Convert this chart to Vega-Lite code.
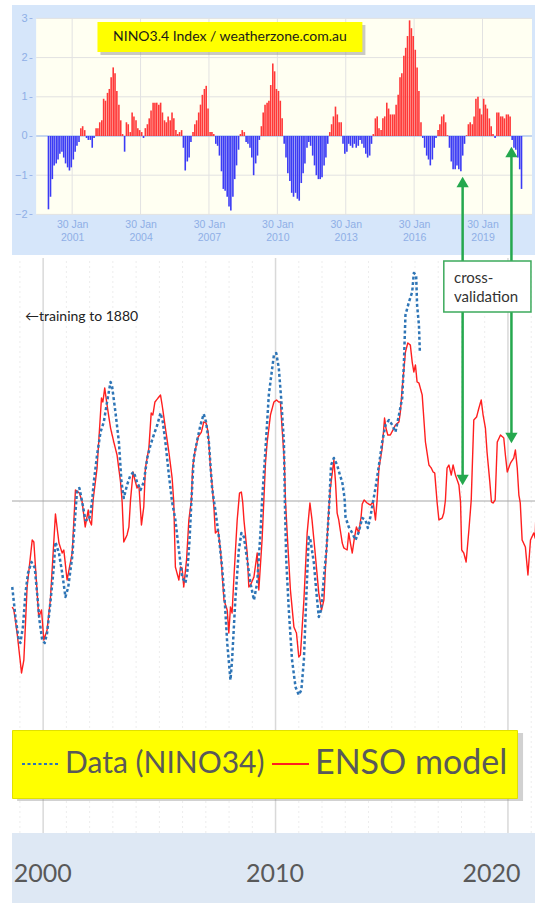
{
"$schema": "https://vega.github.io/schema/vega-lite/v6.json",
"background": "white",
"padding": {"left": 10, "top": 5, "right": 0, "bottom": 0},
"bounds": "flush",
"spacing": 3,
"config": {"view": {"stroke": null}},
"vconcat": [
{
"width": 525, "height": 250,
"view": {"fill": "#D6E6FA", "stroke": null},
"layer": [
{"data": {"values": [{}]},
 "mark": {"type": "rect", "color": "#FFFFF2"},
 "encoding": {
  "x": {"datum": 1999.5, "type": "quantitative", "scale": {"domain": [1998.66, 2021.25], "nice": false, "zero": false},
        "axis": {"orient": "bottom", "offset": -40, "values": [2001.08, 2004.08, 2007.08, 2010.08, 2013.08, 2016.08, 2019.08], "labelExpr": "['30 Jan', '' + floor(datum.value)]", "domain": false, "ticks": false, "grid": false, "labelPadding": 4, "labelFont": "Liberation Sans", "labelFontSize": 10.5, "labelLineHeight": 13, "labelColor": "#8FAFE6", "labelFlush": false, "labelOverlap": false, "title": null}},
  "x2": {"datum": 2021.25},
  "y": {"datum": -2, "type": "quantitative", "scale": {"domain": [-3.036, 3.342], "nice": false, "zero": false},
        "axis": {"orient": "left", "offset": -20, "values": [-2, -1, 0, 1, 2, 3], "format": "d", "domain": false, "ticks": true, "tickSize": 3, "tickColor": "#9BB7EA", "grid": false, "labelPadding": 2, "labelFont": "Liberation Sans", "labelFontSize": 11, "labelColor": "#8FAFE6", "title": null}},
  "y2": {"datum": 3}
 }},
{"data": {"values": [{"g": -2}, {"g": -1}, {"g": 1}, {"g": 2}, {"g": 3}]},
 "mark": {"type": "rule", "color": "#E2E2E2", "strokeWidth": 1},
 "encoding": {"y": {"field": "g", "type": "quantitative"}, "x": {"datum": 1999.5, "type": "quantitative"}, "x2": {"datum": 2021.25}}},
{"data": {"values": [{"g": 2001.08}, {"g": 2004.08}, {"g": 2007.08}, {"g": 2010.08}, {"g": 2013.08}, {"g": 2016.08}, {"g": 2019.08}]},
 "mark": {"type": "rule", "color": "#E2E2E2", "strokeWidth": 1},
 "encoding": {"x": {"field": "g", "type": "quantitative"}, "y": {"datum": -2, "type": "quantitative"}, "y2": {"datum": 3}}},
{"data": {"values": [{}]},
 "mark": {"type": "rule", "color": "#8AAEEB", "strokeWidth": 1.2},
 "encoding": {"y": {"datum": 0, "type": "quantitative"}, "x": {"datum": 1999.5, "type": "quantitative"}, "x2": {"datum": 2021.25}}},
{"data": {"values": [
{"t":2000.04,"v":-1.87},{"t":2000.13,"v":-1.55},{"t":2000.21,"v":-1.1},{"t":2000.29,"v":-0.75},{"t":2000.38,"v":-0.7},{"t":2000.46,"v":-0.6},{"t":2000.54,"v":-0.45},{"t":2000.63,"v":-0.4},{"t":2000.71,"v":-0.55},{"t":2000.79,"v":-0.7},{"t":2000.88,"v":-0.8},{"t":2000.96,"v":-0.88},
{"t":2001.04,"v":-0.8},{"t":2001.13,"v":-0.6},{"t":2001.21,"v":-0.4},{"t":2001.29,"v":-0.25},{"t":2001.38,"v":-0.15},{"t":2001.46,"v":0.2},{"t":2001.54,"v":0.25},{"t":2001.63,"v":0.15},{"t":2001.71,"v":-0.05},{"t":2001.79,"v":-0.1},{"t":2001.88,"v":-0.1},{"t":2001.96,"v":-0.3},
{"t":2002.04,"v":-0.05},{"t":2002.13,"v":0.2},{"t":2002.21,"v":0.2},{"t":2002.29,"v":0.35},{"t":2002.38,"v":0.4},{"t":2002.46,"v":0.95},{"t":2002.54,"v":0.9},{"t":2002.63,"v":1.1},{"t":2002.71,"v":1.2},{"t":2002.79,"v":1.5},{"t":2002.88,"v":1.75},{"t":2002.96,"v":1.6},
{"t":2003.04,"v":1.15},{"t":2003.13,"v":0.8},{"t":2003.21,"v":0.4},{"t":2003.29,"v":0.05},{"t":2003.38,"v":-0.4},{"t":2003.46,"v":0.35},{"t":2003.54,"v":0.3},{"t":2003.63,"v":0.1},{"t":2003.71,"v":0.6},{"t":2003.79,"v":0.5},{"t":2003.88,"v":0.4},{"t":2003.96,"v":0.2},
{"t":2004.04,"v":0.15},{"t":2004.13,"v":0.1},{"t":2004.21,"v":-0.05},{"t":2004.29,"v":0.2},{"t":2004.38,"v":0.3},{"t":2004.46,"v":0.45},{"t":2004.54,"v":0.65},{"t":2004.63,"v":0.85},{"t":2004.71,"v":0.85},{"t":2004.79,"v":0.85},{"t":2004.88,"v":0.8},{"t":2004.96,"v":0.85},
{"t":2005.04,"v":0.6},{"t":2005.13,"v":0.4},{"t":2005.21,"v":0.35},{"t":2005.29,"v":0.5},{"t":2005.38,"v":0.4},{"t":2005.46,"v":0.6},{"t":2005.54,"v":0.45},{"t":2005.63,"v":0.15},{"t":2005.71,"v":0.05},{"t":2005.79,"v":0.1},{"t":2005.88,"v":0.15},{"t":2005.96,"v":-0.3},
{"t":2006.04,"v":-0.88},{"t":2006.13,"v":-0.65},{"t":2006.21,"v":-0.55},{"t":2006.29,"v":-0.15},{"t":2006.38,"v":0.1},{"t":2006.46,"v":0.3},{"t":2006.54,"v":0.4},{"t":2006.63,"v":0.6},{"t":2006.71,"v":0.8},{"t":2006.79,"v":1.05},{"t":2006.88,"v":1.2},{"t":2006.96,"v":1.28},
{"t":2007.04,"v":0.7},{"t":2007.13,"v":0.1},{"t":2007.21,"v":0.1},{"t":2007.29,"v":0.05},{"t":2007.38,"v":-0.2},{"t":2007.46,"v":-0.25},{"t":2007.54,"v":-0.5},{"t":2007.63,"v":-0.9},{"t":2007.71,"v":-1.35},{"t":2007.79,"v":-1.4},{"t":2007.88,"v":-1.55},{"t":2007.96,"v":-1.8},
{"t":2008.04,"v":-1.9},{"t":2008.13,"v":-1.55},{"t":2008.21,"v":-1.1},{"t":2008.29,"v":-0.75},{"t":2008.38,"v":-0.35},{"t":2008.46,"v":0.05},{"t":2008.54,"v":0.15},{"t":2008.63,"v":0.1},{"t":2008.71,"v":-0.15},{"t":2008.79,"v":-0.2},{"t":2008.88,"v":-0.3},{"t":2008.96,"v":-0.55},
{"t":2009.04,"v":-1.0},{"t":2009.13,"v":-0.7},{"t":2009.21,"v":-0.5},{"t":2009.29,"v":-0.1},{"t":2009.38,"v":0.25},{"t":2009.46,"v":0.6},{"t":2009.54,"v":0.8},{"t":2009.63,"v":0.85},{"t":2009.71,"v":0.9},{"t":2009.79,"v":1.3},{"t":2009.88,"v":1.85},{"t":2009.96,"v":1.65},
{"t":2010.04,"v":1.2},{"t":2010.13,"v":1.15},{"t":2010.21,"v":0.9},{"t":2010.29,"v":0.45},{"t":2010.38,"v":-0.2},{"t":2010.46,"v":-0.55},{"t":2010.54,"v":-0.95},{"t":2010.63,"v":-1.15},{"t":2010.71,"v":-1.45},{"t":2010.79,"v":-1.55},{"t":2010.88,"v":-1.45},{"t":2010.96,"v":-1.6},
{"t":2011.04,"v":-1.65},{"t":2011.13,"v":-1.2},{"t":2011.21,"v":-0.95},{"t":2011.29,"v":-0.7},{"t":2011.38,"v":-0.3},{"t":2011.46,"v":-0.15},{"t":2011.54,"v":-0.25},{"t":2011.63,"v":-0.5},{"t":2011.71,"v":-0.75},{"t":2011.79,"v":-1.0},{"t":2011.88,"v":-1.1},{"t":2011.96,"v":-1.1},
{"t":2012.04,"v":-1.05},{"t":2012.13,"v":-0.75},{"t":2012.21,"v":-0.55},{"t":2012.29,"v":-0.2},{"t":2012.38,"v":0.1},{"t":2012.46,"v":0.3},{"t":2012.54,"v":0.5},{"t":2012.63,"v":0.75},{"t":2012.71,"v":0.55},{"t":2012.79,"v":0.35},{"t":2012.88,"v":0.35},{"t":2012.96,"v":-0.2},
{"t":2013.04,"v":-0.45},{"t":2013.13,"v":-0.4},{"t":2013.21,"v":-0.2},{"t":2013.29,"v":-0.25},{"t":2013.38,"v":-0.3},{"t":2013.46,"v":-0.2},{"t":2013.54,"v":-0.3},{"t":2013.63,"v":-0.25},{"t":2013.71,"v":-0.1},{"t":2013.79,"v":-0.2},{"t":2013.88,"v":-0.3},{"t":2013.96,"v":-0.45},
{"t":2014.04,"v":-0.55},{"t":2014.13,"v":-0.5},{"t":2014.21,"v":-0.2},{"t":2014.29,"v":0.05},{"t":2014.38,"v":0.45},{"t":2014.46,"v":0.5},{"t":2014.54,"v":0.2},{"t":2014.63,"v":0.15},{"t":2014.71,"v":0.45},{"t":2014.79,"v":0.5},{"t":2014.88,"v":0.85},{"t":2014.96,"v":0.7},
{"t":2015.04,"v":0.55},{"t":2015.13,"v":0.55},{"t":2015.21,"v":0.55},{"t":2015.29,"v":0.8},{"t":2015.38,"v":1.05},{"t":2015.46,"v":1.5},{"t":2015.54,"v":1.6},{"t":2015.63,"v":2.05},{"t":2015.71,"v":2.25},{"t":2015.79,"v":2.55},{"t":2015.88,"v":2.95},{"t":2015.96,"v":2.75},
{"t":2016.04,"v":2.55},{"t":2016.13,"v":2.2},{"t":2016.21,"v":1.75},{"t":2016.29,"v":1.15},{"t":2016.38,"v":0.35},{"t":2016.46,"v":-0.05},{"t":2016.54,"v":-0.3},{"t":2016.63,"v":-0.5},{"t":2016.71,"v":-0.6},{"t":2016.79,"v":-0.75},{"t":2016.88,"v":-0.6},{"t":2016.96,"v":-0.3},
{"t":2017.04,"v":-0.05},{"t":2017.13,"v":0.15},{"t":2017.21,"v":0.3},{"t":2017.29,"v":0.5},{"t":2017.38,"v":0.55},{"t":2017.46,"v":0.35},{"t":2017.54,"v":0.02},{"t":2017.63,"v":-0.3},{"t":2017.71,"v":-0.65},{"t":2017.79,"v":-0.85},{"t":2017.88,"v":-0.85},{"t":2017.96,"v":-0.75},
{"t":2018.04,"v":-0.85},{"t":2018.13,"v":-0.9},{"t":2018.21,"v":-0.5},{"t":2018.29,"v":-0.2},{"t":2018.38,"v":0.02},{"t":2018.46,"v":0.3},{"t":2018.54,"v":0.35},{"t":2018.63,"v":0.3},{"t":2018.71,"v":0.5},{"t":2018.79,"v":0.95},{"t":2018.88,"v":1.0},{"t":2018.96,"v":0.7},
{"t":2019.04,"v":0.55},{"t":2019.13,"v":0.95},{"t":2019.21,"v":0.8},{"t":2019.29,"v":0.7},{"t":2019.38,"v":0.45},{"t":2019.46,"v":0.25},{"t":2019.54,"v":0.05},{"t":2019.63,"v":-0.05},{"t":2019.71,"v":0.6},{"t":2019.79,"v":0.6},{"t":2019.88,"v":0.5},{"t":2019.96,"v":0.5},
{"t":2020.04,"v":0.45},{"t":2020.13,"v":0.55},{"t":2020.21,"v":0.55},{"t":2020.29,"v":0.5},{"t":2020.38,"v":-0.1},{"t":2020.46,"v":-0.3},{"t":2020.54,"v":-0.35},{"t":2020.63,"v":-0.55},{"t":2020.71,"v":-0.85},{"t":2020.79,"v":-1.35}
]},
 "mark": {"type": "bar", "size": 1.6},
 "encoding": {
  "x": {"field": "t", "type": "quantitative"},
  "y": {"field": "v", "type": "quantitative", "stack": null},
  "color": {"condition": {"test": "datum.v < 0", "value": "#3B3BF5"}, "value": "#FF3838"}
 }},
{"data": {"values": [{}]},
 "mark": {"type": "rect", "color": "#8A8A8A", "opacity": 0.45, "xOffset": 3, "x2Offset": 3, "yOffset": 3, "y2Offset": 3},
 "encoding": {"x": {"datum": 2002.19, "type": "quantitative"}, "x2": {"datum": 2013.81}, "y": {"datum": 2.91, "type": "quantitative"}, "y2": {"datum": 2.14}}},
{"data": {"values": [{}]},
 "mark": {"type": "rect", "color": "#FFFF00"},
 "encoding": {"x": {"datum": 2002.19, "type": "quantitative"}, "x2": {"datum": 2013.81}, "y": {"datum": 2.91, "type": "quantitative"}, "y2": {"datum": 2.14}}},
{"data": {"values": [{"label": "NINO3.4 Index / weatherzone.com.au"}]},
 "mark": {"type": "text", "font": "Lato", "fontSize": 14, "color": "#1A1A1A", "align": "center", "baseline": "middle"},
 "encoding": {"x": {"datum": 2008.0, "type": "quantitative"}, "y": {"datum": 2.53, "type": "quantitative"}, "text": {"field": "label"}}}
]
},
{
"width": 525, "height": 645,
"view": {"fill": "white", "stroke": null},
"layer": [
{"data": {"values": [{"g":1999},{"g":2001},{"g":2002},{"g":2003},{"g":2004},{"g":2005},{"g":2006},{"g":2007},{"g":2008},{"g":2009},{"g":2011},{"g":2012},{"g":2013},{"g":2014},{"g":2015},{"g":2016},{"g":2017},{"g":2018},{"g":2019},{"g":2021}]},
 "mark": {"type": "rule", "color": "#EDEDED", "strokeWidth": 1, "strokeDash": [2, 3]},
 "encoding": {
  "x": {"field": "g", "type": "quantitative", "scale": {"domain": [1998.66, 2021.25], "nice": false, "zero": false},
        "axis": {"orient": "bottom", "offset": -46, "values": [2000, 2010, 2020], "format": "d", "domain": false, "ticks": false, "grid": false, "labelPadding": 4, "labelFont": "Lato", "labelFontSize": 25, "labelColor": "#595959", "labelFlush": false, "labelOverlap": false, "labelOffset": {"condition": {"test": "datum.value == 2020", "value": -17}, "value": -1}, "zindex": 1, "title": null}},
  "y": {"datum": -3.32, "type": "quantitative", "scale": {"domain": [-4.02, 2.43], "nice": false, "zero": false}, "axis": null},
  "y2": {"datum": 2.43}
 }},
{"data": {"values": [{"g":2000},{"g":2010},{"g":2020}]},
 "mark": {"type": "rule", "color": "#D9D9D9", "strokeWidth": 1.5},
 "encoding": {"x": {"field": "g", "type": "quantitative"}, "y": {"datum": -3.32, "type": "quantitative", "axis": null}, "y2": {"datum": 2.43}}},
{"data": {"values": [{}]},
 "mark": {"type": "rect", "color": "#DEE8F4"},
 "encoding": {"x": {"datum": 1998.66, "type": "quantitative"}, "x2": {"datum": 2021.25}, "y": {"datum": -3.32, "type": "quantitative", "axis": null}, "y2": {"datum": -4.02}}},
{"data": {"values": [{}]},
 "mark": {"type": "rule", "color": "#A6A6A6", "strokeWidth": 1},
 "encoding": {"y": {"datum": 0, "type": "quantitative", "axis": null}}},
{"data": {"values": [{}]},
 "mark": {"type": "rect", "color": "#7A7A7A", "opacity": 0.35, "xOffset": 3, "x2Offset": 3, "yOffset": 3, "y2Offset": 3},
 "encoding": {"x": {"datum": 1998.75, "type": "quantitative"}, "x2": {"datum": 2020.52}, "y": {"datum": -2.29, "type": "quantitative", "axis": null}, "y2": {"datum": -2.97}}},
{"data": {"values": [
{"s":"ENSO model","t":1998.67,"v":-1.06},{"s":"ENSO model","t":1998.74,"v":-1.09},{"s":"ENSO model","t":1998.88,"v":-1.32},{"s":"ENSO model","t":1999.07,"v":-1.72},{"s":"ENSO model","t":1999.17,"v":-1.59},{"s":"ENSO model","t":1999.31,"v":-0.86},{"s":"ENSO model","t":1999.53,"v":-0.39},{"s":"ENSO model","t":1999.60,"v":-0.41},{"s":"ENSO model","t":1999.67,"v":-0.66},{"s":"ENSO model","t":1999.81,"v":-1.16},{"s":"ENSO model","t":1999.93,"v":-1.09},
{"s":"ENSO model","t":2000.03,"v":-1.39},{"s":"ENSO model","t":2000.17,"v":-1.29},{"s":"ENSO model","t":2000.31,"v":-0.99},{"s":"ENSO model","t":2000.53,"v":-0.13},{"s":"ENSO model","t":2000.68,"v":-0.42},{"s":"ENSO model","t":2000.82,"v":-0.52},{"s":"ENSO model","t":2000.89,"v":-0.49},
{"s":"ENSO model","t":2001.03,"v":-0.79},{"s":"ENSO model","t":2001.25,"v":-0.52},{"s":"ENSO model","t":2001.39,"v":0.11},{"s":"ENSO model","t":2001.56,"v":0.08},{"s":"ENSO model","t":2001.68,"v":-0.01},{"s":"ENSO model","t":2001.81,"v":-0.26},{"s":"ENSO model","t":2001.94,"v":-0.09},{"s":"ENSO model","t":2001.99,"v":-0.19},
{"s":"ENSO model","t":2002.08,"v":-0.24},{"s":"ENSO model","t":2002.15,"v":0.01},{"s":"ENSO model","t":2002.32,"v":0.33},{"s":"ENSO model","t":2002.51,"v":1.03},{"s":"ENSO model","t":2002.57,"v":0.99},{"s":"ENSO model","t":2002.65,"v":1.13},{"s":"ENSO model","t":2002.75,"v":0.96},{"s":"ENSO model","t":2002.90,"v":0.73},
{"s":"ENSO model","t":2003.04,"v":0.59},{"s":"ENSO model","t":2003.18,"v":0.46},{"s":"ENSO model","t":2003.33,"v":0.19},{"s":"ENSO model","t":2003.40,"v":-0.01},{"s":"ENSO model","t":2003.47,"v":-0.41},{"s":"ENSO model","t":2003.61,"v":-0.34},{"s":"ENSO model","t":2003.69,"v":-0.26},{"s":"ENSO model","t":2003.76,"v":0.01},{"s":"ENSO model","t":2003.87,"v":0.29},{"s":"ENSO model","t":2003.95,"v":0.21},
{"s":"ENSO model","t":2004.04,"v":0.13},{"s":"ENSO model","t":2004.12,"v":0.16},{"s":"ENSO model","t":2004.23,"v":-0.24},{"s":"ENSO model","t":2004.33,"v":-0.06},{"s":"ENSO model","t":2004.40,"v":0.33},{"s":"ENSO model","t":2004.55,"v":0.53},{"s":"ENSO model","t":2004.65,"v":0.88},{"s":"ENSO model","t":2004.72,"v":0.86},{"s":"ENSO model","t":2004.81,"v":0.99},{"s":"ENSO model","t":2004.98,"v":1.04},
{"s":"ENSO model","t":2005.05,"v":1.06},{"s":"ENSO model","t":2005.12,"v":0.96},{"s":"ENSO model","t":2005.26,"v":0.73},{"s":"ENSO model","t":2005.41,"v":0.49},{"s":"ENSO model","t":2005.55,"v":0.23},{"s":"ENSO model","t":2005.62,"v":-0.01},{"s":"ENSO model","t":2005.69,"v":-0.66},{"s":"ENSO model","t":2005.84,"v":-0.79},{"s":"ENSO model","t":2005.91,"v":-0.66},{"s":"ENSO model","t":2005.98,"v":-0.67},
{"s":"ENSO model","t":2006.05,"v":-0.86},{"s":"ENSO model","t":2006.17,"v":-0.59},{"s":"ENSO model","t":2006.27,"v":-0.19},{"s":"ENSO model","t":2006.38,"v":0.01},{"s":"ENSO model","t":2006.43,"v":0.33},{"s":"ENSO model","t":2006.53,"v":0.49},{"s":"ENSO model","t":2006.67,"v":0.64},{"s":"ENSO model","t":2006.81,"v":0.69},{"s":"ENSO model","t":2006.91,"v":0.79},
{"s":"ENSO model","t":2007.01,"v":0.78},{"s":"ENSO model","t":2007.10,"v":0.69},{"s":"ENSO model","t":2007.20,"v":0.33},{"s":"ENSO model","t":2007.27,"v":0.16},{"s":"ENSO model","t":2007.35,"v":-0.07},{"s":"ENSO model","t":2007.41,"v":-0.32},{"s":"ENSO model","t":2007.53,"v":-0.29},{"s":"ENSO model","t":2007.63,"v":-0.49},{"s":"ENSO model","t":2007.78,"v":-0.99},{"s":"ENSO model","t":2007.92,"v":-1.09},{"s":"ENSO model","t":2007.99,"v":-1.32},
{"s":"ENSO model","t":2008.06,"v":-1.06},{"s":"ENSO model","t":2008.13,"v":-1.12},{"s":"ENSO model","t":2008.21,"v":-0.76},{"s":"ENSO model","t":2008.35,"v":-0.19},{"s":"ENSO model","t":2008.45,"v":0.08},{"s":"ENSO model","t":2008.53,"v":0.09},{"s":"ENSO model","t":2008.59,"v":-0.02},{"s":"ENSO model","t":2008.64,"v":-0.19},{"s":"ENSO model","t":2008.78,"v":-0.52},{"s":"ENSO model","t":2008.85,"v":-0.86},{"s":"ENSO model","t":2008.92,"v":-0.84},
{"s":"ENSO model","t":2009.07,"v":-0.76},{"s":"ENSO model","t":2009.21,"v":-0.52},{"s":"ENSO model","t":2009.28,"v":-0.89},{"s":"ENSO model","t":2009.42,"v":-0.39},{"s":"ENSO model","t":2009.57,"v":0.39},{"s":"ENSO model","t":2009.64,"v":0.59},{"s":"ENSO model","t":2009.72,"v":0.74},{"s":"ENSO model","t":2009.78,"v":0.86},{"s":"ENSO model","t":2009.93,"v":0.99},
{"s":"ENSO model","t":2010.04,"v":1.01},{"s":"ENSO model","t":2010.14,"v":0.99},{"s":"ENSO model","t":2010.21,"v":0.99},{"s":"ENSO model","t":2010.28,"v":0.73},{"s":"ENSO model","t":2010.38,"v":0.39},{"s":"ENSO model","t":2010.43,"v":-0.01},{"s":"ENSO model","t":2010.50,"v":-0.32},{"s":"ENSO model","t":2010.64,"v":-0.89},{"s":"ENSO model","t":2010.79,"v":-1.26},{"s":"ENSO model","t":2010.90,"v":-1.32},
{"s":"ENSO model","t":2011.00,"v":-1.56},{"s":"ENSO model","t":2011.07,"v":-1.54},{"s":"ENSO model","t":2011.22,"v":-0.99},{"s":"ENSO model","t":2011.36,"v":-0.32},{"s":"ENSO model","t":2011.48,"v":-0.02},{"s":"ENSO model","t":2011.57,"v":-0.19},{"s":"ENSO model","t":2011.72,"v":-0.56},{"s":"ENSO model","t":2011.86,"v":-0.92},{"s":"ENSO model","t":2011.98,"v":-1.09},
{"s":"ENSO model","t":2012.08,"v":-0.99},{"s":"ENSO model","t":2012.15,"v":-0.66},{"s":"ENSO model","t":2012.29,"v":-0.09},{"s":"ENSO model","t":2012.36,"v":0.13},{"s":"ENSO model","t":2012.51,"v":0.41},{"s":"ENSO model","t":2012.58,"v":0.19},{"s":"ENSO model","t":2012.65,"v":-0.12},{"s":"ENSO model","t":2012.72,"v":-0.19},{"s":"ENSO model","t":2012.87,"v":-0.42},{"s":"ENSO model","t":2012.94,"v":-0.47},
{"s":"ENSO model","t":2013.08,"v":-0.49},{"s":"ENSO model","t":2013.15,"v":-0.32},{"s":"ENSO model","t":2013.22,"v":-0.42},{"s":"ENSO model","t":2013.30,"v":-0.52},{"s":"ENSO model","t":2013.40,"v":-0.36},{"s":"ENSO model","t":2013.48,"v":-0.26},{"s":"ENSO model","t":2013.58,"v":-0.32},{"s":"ENSO model","t":2013.68,"v":-0.16},{"s":"ENSO model","t":2013.73,"v":-0.03},{"s":"ENSO model","t":2013.81,"v":0.01},{"s":"ENSO model","t":2013.94,"v":-0.02},
{"s":"ENSO model","t":2014.08,"v":-0.04},{"s":"ENSO model","t":2014.20,"v":-0.01},{"s":"ENSO model","t":2014.30,"v":-0.19},{"s":"ENSO model","t":2014.37,"v":0.01},{"s":"ENSO model","t":2014.45,"v":0.33},{"s":"ENSO model","t":2014.59,"v":0.53},{"s":"ENSO model","t":2014.69,"v":0.83},{"s":"ENSO model","t":2014.75,"v":0.73},{"s":"ENSO model","t":2014.83,"v":0.66},{"s":"ENSO model","t":2014.94,"v":0.66},
{"s":"ENSO model","t":2015.16,"v":0.76},{"s":"ENSO model","t":2015.31,"v":0.79},{"s":"ENSO model","t":2015.37,"v":0.89},{"s":"ENSO model","t":2015.45,"v":1.13},{"s":"ENSO model","t":2015.59,"v":1.49},{"s":"ENSO model","t":2015.69,"v":1.58},{"s":"ENSO model","t":2015.80,"v":1.56},{"s":"ENSO model","t":2015.88,"v":1.39},{"s":"ENSO model","t":2015.95,"v":1.29},
{"s":"ENSO model","t":2016.02,"v":1.36},{"s":"ENSO model","t":2016.09,"v":1.19},{"s":"ENSO model","t":2016.17,"v":1.18},{"s":"ENSO model","t":2016.31,"v":1.06},{"s":"ENSO model","t":2016.45,"v":0.59},{"s":"ENSO model","t":2016.60,"v":0.36},{"s":"ENSO model","t":2016.70,"v":0.33},{"s":"ENSO model","t":2016.78,"v":0.29},{"s":"ENSO model","t":2016.85,"v":0.28},{"s":"ENSO model","t":2016.95,"v":-0.01},
{"s":"ENSO model","t":2017.03,"v":-0.19},{"s":"ENSO model","t":2017.17,"v":-0.17},{"s":"ENSO model","t":2017.24,"v":-0.12},{"s":"ENSO model","t":2017.31,"v":0.01},{"s":"ENSO model","t":2017.38,"v":0.33},{"s":"ENSO model","t":2017.46,"v":0.36},{"s":"ENSO model","t":2017.56,"v":0.26},{"s":"ENSO model","t":2017.64,"v":0.36},{"s":"ENSO model","t":2017.74,"v":0.26},{"s":"ENSO model","t":2017.89,"v":0.16},{"s":"ENSO model","t":2017.96,"v":-0.01},
{"s":"ENSO model","t":2018.01,"v":-0.49},{"s":"ENSO model","t":2018.10,"v":-0.52},{"s":"ENSO model","t":2018.20,"v":-0.61},{"s":"ENSO model","t":2018.32,"v":-0.29},{"s":"ENSO model","t":2018.42,"v":0.01},{"s":"ENSO model","t":2018.53,"v":0.81},{"s":"ENSO model","t":2018.65,"v":0.84},{"s":"ENSO model","t":2018.75,"v":0.93},{"s":"ENSO model","t":2018.85,"v":1.01},{"s":"ENSO model","t":2018.93,"v":0.86},
{"s":"ENSO model","t":2019.03,"v":0.73},{"s":"ENSO model","t":2019.10,"v":0.49},{"s":"ENSO model","t":2019.22,"v":0.19},{"s":"ENSO model","t":2019.29,"v":-0.01},{"s":"ENSO model","t":2019.36,"v":-0.02},{"s":"ENSO model","t":2019.45,"v":0.01},{"s":"ENSO model","t":2019.54,"v":0.59},{"s":"ENSO model","t":2019.68,"v":0.66},{"s":"ENSO model","t":2019.82,"v":0.63},{"s":"ENSO model","t":2019.89,"v":0.46},{"s":"ENSO model","t":2019.97,"v":0.29},
{"s":"ENSO model","t":2020.11,"v":0.38},{"s":"ENSO model","t":2020.25,"v":0.43},{"s":"ENSO model","t":2020.32,"v":0.51},{"s":"ENSO model","t":2020.40,"v":0.33},{"s":"ENSO model","t":2020.47,"v":0.06},{"s":"ENSO model","t":2020.53,"v":-0.02},{"s":"ENSO model","t":2020.61,"v":-0.39},{"s":"ENSO model","t":2020.75,"v":-0.46},{"s":"ENSO model","t":2020.86,"v":-0.74},{"s":"ENSO model","t":2020.97,"v":-0.39},
{"s":"ENSO model","t":2021.11,"v":-0.32},{"s":"ENSO model","t":2021.17,"v":-0.37},{"s":"ENSO model","t":2021.25,"v":0.21},
{"s":"Data (NINO34)","t":1998.67,"v":-0.86},{"s":"Data (NINO34)","t":1998.81,"v":-1.16},{"s":"Data (NINO34)","t":1998.95,"v":-1.39},{"s":"Data (NINO34)","t":1999.02,"v":-1.42},{"s":"Data (NINO34)","t":1999.13,"v":-1.26},{"s":"Data (NINO34)","t":1999.24,"v":-0.92},{"s":"Data (NINO34)","t":1999.35,"v":-0.72},{"s":"Data (NINO34)","t":1999.50,"v":-0.61},{"s":"Data (NINO34)","t":1999.64,"v":-0.67},{"s":"Data (NINO34)","t":1999.74,"v":-0.92},{"s":"Data (NINO34)","t":1999.84,"v":-1.19},{"s":"Data (NINO34)","t":1999.96,"v":-1.39},
{"s":"Data (NINO34)","t":2000.07,"v":-1.42},{"s":"Data (NINO34)","t":2000.17,"v":-1.32},{"s":"Data (NINO34)","t":2000.31,"v":-1.02},{"s":"Data (NINO34)","t":2000.46,"v":-0.66},{"s":"Data (NINO34)","t":2000.53,"v":-0.41},{"s":"Data (NINO34)","t":2000.68,"v":-0.52},{"s":"Data (NINO34)","t":2000.82,"v":-0.72},{"s":"Data (NINO34)","t":2000.96,"v":-0.96},
{"s":"Data (NINO34)","t":2001.08,"v":-0.86},{"s":"Data (NINO34)","t":2001.25,"v":-0.56},{"s":"Data (NINO34)","t":2001.39,"v":-0.12},{"s":"Data (NINO34)","t":2001.46,"v":0.11},{"s":"Data (NINO34)","t":2001.56,"v":0.13},{"s":"Data (NINO34)","t":2001.68,"v":-0.01},{"s":"Data (NINO34)","t":2001.82,"v":-0.19},{"s":"Data (NINO34)","t":2001.97,"v":-0.19},
{"s":"Data (NINO34)","t":2002.04,"v":-0.12},{"s":"Data (NINO34)","t":2002.11,"v":0.01},{"s":"Data (NINO34)","t":2002.18,"v":0.19},{"s":"Data (NINO34)","t":2002.32,"v":0.46},{"s":"Data (NINO34)","t":2002.47,"v":0.69},{"s":"Data (NINO34)","t":2002.61,"v":0.79},{"s":"Data (NINO34)","t":2002.75,"v":0.99},{"s":"Data (NINO34)","t":2002.90,"v":1.19},{"s":"Data (NINO34)","t":2002.97,"v":1.14},
{"s":"Data (NINO34)","t":2003.11,"v":0.89},{"s":"Data (NINO34)","t":2003.26,"v":0.59},{"s":"Data (NINO34)","t":2003.37,"v":0.19},{"s":"Data (NINO34)","t":2003.47,"v":0.03},{"s":"Data (NINO34)","t":2003.61,"v":0.16},{"s":"Data (NINO34)","t":2003.76,"v":0.26},{"s":"Data (NINO34)","t":2003.90,"v":0.29},
{"s":"Data (NINO34)","t":2004.04,"v":0.19},{"s":"Data (NINO34)","t":2004.19,"v":0.11},{"s":"Data (NINO34)","t":2004.33,"v":0.19},{"s":"Data (NINO34)","t":2004.48,"v":0.43},{"s":"Data (NINO34)","t":2004.62,"v":0.56},{"s":"Data (NINO34)","t":2004.76,"v":0.66},{"s":"Data (NINO34)","t":2004.91,"v":0.76},
{"s":"Data (NINO34)","t":2005.05,"v":0.88},{"s":"Data (NINO34)","t":2005.15,"v":0.79},{"s":"Data (NINO34)","t":2005.26,"v":0.59},{"s":"Data (NINO34)","t":2005.41,"v":0.26},{"s":"Data (NINO34)","t":2005.55,"v":-0.01},{"s":"Data (NINO34)","t":2005.69,"v":-0.19},{"s":"Data (NINO34)","t":2005.84,"v":-0.49},{"s":"Data (NINO34)","t":2005.98,"v":-0.76},
{"s":"Data (NINO34)","t":2006.12,"v":-0.82},{"s":"Data (NINO34)","t":2006.20,"v":-0.72},{"s":"Data (NINO34)","t":2006.30,"v":-0.39},{"s":"Data (NINO34)","t":2006.38,"v":0.0},{"s":"Data (NINO34)","t":2006.48,"v":0.43},{"s":"Data (NINO34)","t":2006.63,"v":0.61},{"s":"Data (NINO34)","t":2006.77,"v":0.76},{"s":"Data (NINO34)","t":2006.91,"v":0.87},
{"s":"Data (NINO34)","t":2007.01,"v":0.79},{"s":"Data (NINO34)","t":2007.13,"v":0.59},{"s":"Data (NINO34)","t":2007.27,"v":0.13},{"s":"Data (NINO34)","t":2007.35,"v":0.0},{"s":"Data (NINO34)","t":2007.41,"v":-0.09},{"s":"Data (NINO34)","t":2007.56,"v":-0.36},{"s":"Data (NINO34)","t":2007.70,"v":-0.66},{"s":"Data (NINO34)","t":2007.82,"v":-1.02},{"s":"Data (NINO34)","t":2007.92,"v":-1.42},
{"s":"Data (NINO34)","t":2008.06,"v":-1.79},{"s":"Data (NINO34)","t":2008.13,"v":-1.59},{"s":"Data (NINO34)","t":2008.27,"v":-0.99},{"s":"Data (NINO34)","t":2008.42,"v":-0.49},{"s":"Data (NINO34)","t":2008.53,"v":-0.32},{"s":"Data (NINO34)","t":2008.64,"v":-0.36},{"s":"Data (NINO34)","t":2008.78,"v":-0.59},{"s":"Data (NINO34)","t":2008.92,"v":-0.82},
{"s":"Data (NINO34)","t":2009.07,"v":-0.99},{"s":"Data (NINO34)","t":2009.21,"v":-0.82},{"s":"Data (NINO34)","t":2009.35,"v":-0.32},{"s":"Data (NINO34)","t":2009.42,"v":0.0},{"s":"Data (NINO34)","t":2009.57,"v":0.53},{"s":"Data (NINO34)","t":2009.71,"v":1.06},{"s":"Data (NINO34)","t":2009.78,"v":1.19},{"s":"Data (NINO34)","t":2009.93,"v":1.46},
{"s":"Data (NINO34)","t":2010.03,"v":1.48},{"s":"Data (NINO34)","t":2010.14,"v":1.33},{"s":"Data (NINO34)","t":2010.24,"v":1.03},{"s":"Data (NINO34)","t":2010.36,"v":0.59},{"s":"Data (NINO34)","t":2010.40,"v":0.0},{"s":"Data (NINO34)","t":2010.46,"v":-0.59},{"s":"Data (NINO34)","t":2010.57,"v":-1.09},{"s":"Data (NINO34)","t":2010.71,"v":-1.59},{"s":"Data (NINO34)","t":2010.86,"v":-1.86},
{"s":"Data (NINO34)","t":2011.00,"v":-1.94},{"s":"Data (NINO34)","t":2011.11,"v":-1.89},{"s":"Data (NINO34)","t":2011.22,"v":-1.59},{"s":"Data (NINO34)","t":2011.33,"v":-0.92},{"s":"Data (NINO34)","t":2011.43,"v":-0.36},{"s":"Data (NINO34)","t":2011.50,"v":-0.39},{"s":"Data (NINO34)","t":2011.65,"v":-0.62},{"s":"Data (NINO34)","t":2011.76,"v":-0.92},{"s":"Data (NINO34)","t":2011.86,"v":-1.16},{"s":"Data (NINO34)","t":2011.96,"v":-1.09},
{"s":"Data (NINO34)","t":2012.08,"v":-0.76},{"s":"Data (NINO34)","t":2012.19,"v":-0.49},{"s":"Data (NINO34)","t":2012.29,"v":-0.12},{"s":"Data (NINO34)","t":2012.39,"v":0.36},{"s":"Data (NINO34)","t":2012.51,"v":0.43},{"s":"Data (NINO34)","t":2012.65,"v":0.36},{"s":"Data (NINO34)","t":2012.77,"v":0.26},{"s":"Data (NINO34)","t":2012.87,"v":0.19},{"s":"Data (NINO34)","t":2012.97,"v":0.03},
{"s":"Data (NINO34)","t":2013.01,"v":-0.16},{"s":"Data (NINO34)","t":2013.15,"v":-0.26},{"s":"Data (NINO34)","t":2013.30,"v":-0.32},{"s":"Data (NINO34)","t":2013.44,"v":-0.39},{"s":"Data (NINO34)","t":2013.58,"v":-0.31},{"s":"Data (NINO34)","t":2013.73,"v":-0.17},{"s":"Data (NINO34)","t":2013.87,"v":-0.19},{"s":"Data (NINO34)","t":2013.97,"v":-0.27},
{"s":"Data (NINO34)","t":2014.08,"v":-0.16},{"s":"Data (NINO34)","t":2014.20,"v":0.0},{"s":"Data (NINO34)","t":2014.30,"v":0.13},{"s":"Data (NINO34)","t":2014.45,"v":0.36},{"s":"Data (NINO34)","t":2014.59,"v":0.59},{"s":"Data (NINO34)","t":2014.73,"v":0.76},{"s":"Data (NINO34)","t":2014.88,"v":0.81},
{"s":"Data (NINO34)","t":2015.02,"v":0.76},{"s":"Data (NINO34)","t":2015.16,"v":0.69},{"s":"Data (NINO34)","t":2015.31,"v":0.86},{"s":"Data (NINO34)","t":2015.45,"v":1.03},{"s":"Data (NINO34)","t":2015.52,"v":1.36},{"s":"Data (NINO34)","t":2015.59,"v":1.86},{"s":"Data (NINO34)","t":2015.74,"v":1.99},{"s":"Data (NINO34)","t":2015.88,"v":2.09},{"s":"Data (NINO34)","t":2015.95,"v":2.28},
{"s":"Data (NINO34)","t":2016.05,"v":2.26},{"s":"Data (NINO34)","t":2016.09,"v":1.96},{"s":"Data (NINO34)","t":2016.17,"v":1.76},{"s":"Data (NINO34)","t":2016.21,"v":1.49}
]},
 "mark": {"type": "line", "strokeCap": "butt", "strokeJoin": "round"},
 "encoding": {
  "x": {"field": "t", "type": "quantitative"},
  "y": {"field": "v", "type": "quantitative", "axis": null},
  "color": {"field": "s", "type": "nominal", "scale": {"domain": ["Data (NINO34)", "ENSO model"], "range": ["#2E75B6", "#FF1F1F"]},
    "legend": {"orient": "none", "legendX": 0, "legendY": 725, "direction": "horizontal", "title": null, "fillColor": "#FFFF00", "strokeColor": "#E0E000", "padding": 9, "clipHeight": 50, "labelFont": "Lato", "labelFontSize": {"expr": "datum.label == 'ENSO model' ? 34 : 30"}, "labelColor": "#595959", "labelLimit": 400, "symbolType": "stroke", "symbolSize": 1369, "symbolStrokeWidth": 2, "labelOffset": 5, "columnPadding": 6}},
  "strokeDash": {"field": "s", "type": "nominal", "scale": {"domain": ["Data (NINO34)", "ENSO model"], "range": [[3, 2.5], [1, 0]]}},
  "strokeWidth": {"condition": {"test": "datum.s == 'Data (NINO34)'", "value": 2.5}, "value": 1.4}
 }},
{"data": {"values": [{"t": 2018.05, "a": 3.19, "b": 0.21}, {"t": 2020.15, "a": 3.49, "b": 0.63}]},
 "mark": {"type": "rule", "color": "#25A84E", "strokeWidth": 2.5},
 "encoding": {"x": {"field": "t", "type": "quantitative"}, "y": {"field": "a", "type": "quantitative", "axis": null}, "y2": {"field": "b"}}},
{"data": {"values": [{"t": 2018.05, "v": 3.19}, {"t": 2020.15, "v": 3.49}]},
 "mark": {"type": "point", "shape": "triangle-up", "filled": true, "size": 150, "color": "#25A84E", "opacity": 1},
 "encoding": {"x": {"field": "t", "type": "quantitative"}, "y": {"field": "v", "type": "quantitative", "axis": null}}},
{"data": {"values": [{"t": 2018.05, "v": 0.21}, {"t": 2020.15, "v": 0.63}]},
 "mark": {"type": "point", "shape": "triangle-down", "filled": true, "size": 150, "color": "#25A84E", "opacity": 1},
 "encoding": {"x": {"field": "t", "type": "quantitative"}, "y": {"field": "v", "type": "quantitative", "axis": null}}},
{"data": {"values": [{}]},
 "mark": {"type": "rect", "fill": "white", "stroke": "#3DAA5C", "strokeWidth": 1.5},
 "encoding": {"x": {"datum": 2017.24, "type": "quantitative"}, "x2": {"datum": 2020.99}, "y": {"datum": 2.40, "type": "quantitative", "axis": null}, "y2": {"datum": 1.89}}},
{"data": {"values": [{"lbl": ["cross-", "validation"]}]},
 "mark": {"type": "text", "font": "Lato", "fontSize": 15, "color": "#333333", "align": "left", "baseline": "middle", "lineHeight": 19},
 "encoding": {"x": {"datum": 2017.68, "type": "quantitative"}, "y": {"datum": 2.23, "type": "quantitative", "axis": null}, "text": {"field": "lbl"}}},
{"data": {"values": [{"lbl": "←training to 1880"}]},
 "mark": {"type": "text", "font": "Lato", "fontSize": 14, "color": "#222222", "align": "left", "baseline": "middle"},
 "encoding": {"x": {"datum": 1999.22, "type": "quantitative"}, "y": {"datum": 1.84, "type": "quantitative", "axis": null}, "text": {"field": "lbl"}}}
]
}
]
}
